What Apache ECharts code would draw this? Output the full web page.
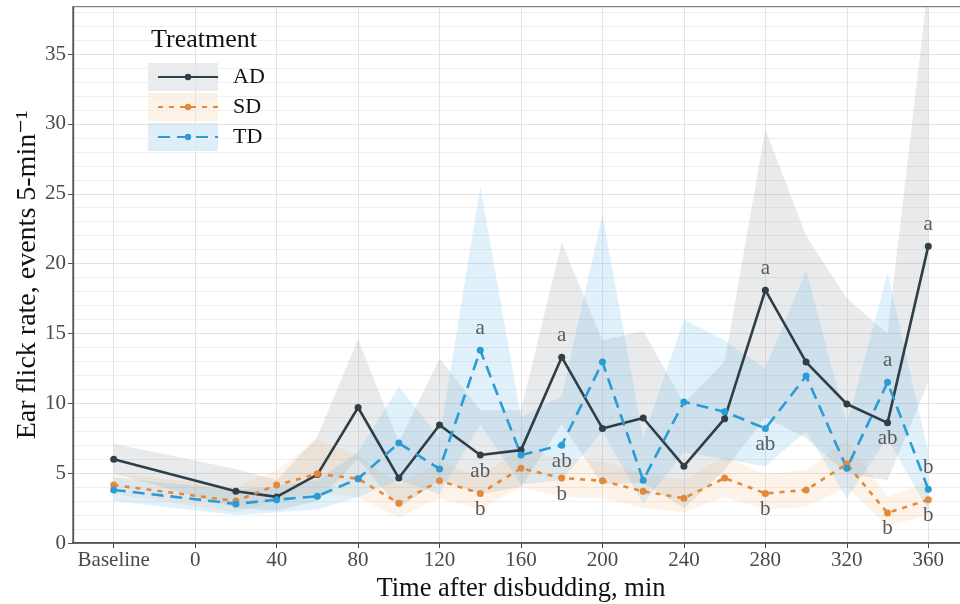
<!DOCTYPE html>
<html>
<head>
<meta charset="utf-8">
<script src="https://cdn.jsdelivr.net/npm/echarts@6/dist/echarts.min.js"></script>
<style>html,body{margin:0;padding:0;background:#fff}#c{width:960px;height:604px}</style>
</head>
<body>
<div id="c"></div>
<script>
// ---- data ----
const times = [-40, 20, 40, 60, 80, 100, 120, 140, 160, 180, 200, 220, 240, 260, 280, 300, 320, 340, 360];
const tickValues = [-40, 0, 40, 80, 120, 160, 200, 240, 280, 320, 360];
const tickLabels = ['Baseline', '0', '40', '80', '120', '160', '200', '240', '280', '320', '360'];

const adMean = [6.0, 3.7, 3.3, 4.9, 9.7, 4.65, 8.45, 6.3, 6.65, 13.3, 8.2, 8.95, 5.5, 8.9, 18.1, 12.95, 9.95, 8.6, 21.25];
const adLow  = [5.0, 2.5, 2.3, 3.0, 6.0, 2.5, 4.5, 3.5, 4.0, 8.5, 4.2, 4.3, 2.5, 5.2, 9.0, 7.5, 5.0, 4.5, 11.5];
const adHigh = [7.1, 5.3, 4.5, 7.6, 14.6, 7.2, 13.2, 9.5, 9.5, 21.5, 14.5, 15.2, 10.0, 13.0, 29.6, 22.0, 17.5, 15.0, 40.0];

const sdMean = [4.15, 3.0, 4.15, 4.95, 4.6, 2.85, 4.45, 3.55, 5.35, 4.65, 4.45, 3.7, 3.2, 4.65, 3.55, 3.8, 5.65, 2.15, 3.1];
const sdLow  = [3.5, 2.2, 3.0, 3.6, 3.3, 1.8, 3.2, 2.4, 4.0, 3.3, 3.2, 2.5, 2.2, 3.3, 2.4, 2.6, 4.0, 1.2, 2.0];
const sdHigh = [5.0, 4.0, 5.2, 7.4, 6.3, 4.2, 5.8, 4.8, 6.8, 6.0, 5.8, 5.0, 4.5, 6.2, 4.9, 5.2, 7.4, 3.3, 4.4];

const tdMean = [3.8, 2.8, 3.1, 3.35, 4.6, 7.15, 5.3, 13.8, 6.3, 7.0, 12.95, 4.5, 10.1, 9.4, 8.2, 11.95, 5.35, 11.5, 3.85];
const tdLow  = [3.0, 2.0, 2.2, 2.4, 3.3, 4.5, 3.5, 8.5, 4.2, 4.5, 8.0, 2.8, 6.5, 6.0, 5.5, 8.0, 3.2, 7.5, 2.3];
const tdHigh = [4.7, 3.8, 4.1, 4.5, 6.5, 11.2, 7.5, 25.5, 9.0, 10.5, 23.5, 7.5, 16.0, 14.5, 12.5, 19.5, 8.5, 19.3, 6.5];

// significance letters (aligned with times)
const adLetters = ['', '', '', '', '', '', '', 'ab', '', 'a', '', '', '', '', 'a', '', '', 'ab', 'a'];
const sdLetters = ['', '', '', '', '', '', '', 'b', '', 'b', '', '', '', '', 'b', '', '', 'b', 'b'];
const tdLetters = ['', '', '', '', '', '', '', 'a', '', 'ab', '', '', '', '', 'ab', '', '', 'a', 'b'];

const seriesNames = ['AD', 'SD', 'TD'];

// ---- style ----
const FONT = '"Liberation Serif", "DejaVu Serif", serif';
const colors = { AD: '#2f3f48', SD: '#e28a3a', TD: '#2b9bd6' };
const bandColors = { AD: 'rgba(140,150,158,0.20)', SD: 'rgba(248,180,120,0.16)', TD: 'rgba(100,185,235,0.20)' };
const letterPos = {
  AD: { 'ab': 'bottom', 'a': 'top' },
  SD: { 'b': 'bottom' },
  TD: { 'a': 'top', 'ab': 'bottom', 'b': 'top' }
};

function bandSeries(name, low, high) {
  return {
    type: 'custom',
    name: name + ' band',
    clip: true,
    silent: true,
    z: 1,
    data: [0],
    renderItem: function (params, api) {
      const pts = [];
      for (let i = 0; i < times.length; i++) pts.push(api.coord([times[i], high[i]]));
      for (let i = times.length - 1; i >= 0; i--) pts.push(api.coord([times[i], low[i]]));
      return { type: 'polygon', shape: { points: pts }, style: { fill: bandColors[name] } };
    }
  };
}

function lineSeries(name, mean, letters, dash) {
  const data = times.map((t, i) => {
    const item = { value: [t, mean[i]] };
    const L = letters[i];
    if (L) {
      const pos = letterPos[name][L];
      item.label = {
        show: true, formatter: L, position: pos,
        distance: pos === 'top' ? 8 : 2,
        fontFamily: FONT, fontSize: 21, color: '#5a5a5a'
      };
    }
    return item;
  });
  return {
    type: 'line', name: name, data: data, z: 3,
    symbol: 'circle', symbolSize: 7, showSymbol: true,
    itemStyle: { color: colors[name] },
    lineStyle: { color: colors[name], width: 2.6, type: dash },
    label: { show: false },
    animation: false
  };
}

const chart = echarts.init(document.getElementById('c'), null, { renderer: 'canvas' });
chart.setOption({
  animation: false,
  backgroundColor: '#ffffff',
  grid: { left: 73, right: -9, top: 7, bottom: 61, outerBoundsMode: 'none', containLabel: false, show: true, borderColor: '#555', borderWidth: 1.3, backgroundColor: 'transparent' },
  title: {
    text: 'Treatment', left: 146, top: 22,
    textStyle: { fontFamily: FONT, fontSize: 26, fontWeight: 'normal', color: '#111' }
  },
  legend: {
    data: seriesNames, orient: 'vertical', left: 152, top: 61, z: 5,
    itemWidth: 60, itemHeight: 8, itemGap: 8,
    textStyle: { fontFamily: FONT, fontSize: 22, color: '#111', lineHeight: 20, padding: [0, 0, 0, 10] }
  },
  graphic: [
    { type: 'rect', left: 148, top: 63, z: 0, shape: { width: 70, height: 28 }, style: { fill: '#e9ebec' } },
    { type: 'rect', left: 148, top: 93, z: 0, shape: { width: 70, height: 28 }, style: { fill: '#fdf2e6' } },
    { type: 'rect', left: 148, top: 123, z: 0, shape: { width: 70, height: 28 }, style: { fill: '#ddeef9' } }
  ],
  xAxis: {
    type: 'value', min: -60, max: 380, interval: 20,
    name: 'Time after disbudding, min', nameLocation: 'middle', nameGap: 33,
    nameTextStyle: { fontFamily: FONT, fontSize: 26.5, color: '#111' },
    axisLine: { show: true, onZero: false, lineStyle: { color: '#444', width: 1.6 } },
    axisTick: { show: true, length: 5, lineStyle: { color: '#444' }, customValues: tickValues },
    axisLabel: {
      customValues: tickValues,
      formatter: function (v) { const k = tickValues.indexOf(v); return k >= 0 ? tickLabels[k] : ''; },
      fontFamily: FONT, fontSize: 21, color: '#4a4a4a', margin: 7
    },
    splitLine: { show: true, lineStyle: { color: '#e4e4e4', width: 1 } }
  },
  yAxis: {
    type: 'value', min: 0, max: 38.37, interval: 5,
    name: 'Ear flick rate, events 5-min\u207B\u00B9', nameLocation: 'middle', nameGap: 31,
    nameMoveOverlap: false,
    nameTextStyle: { fontFamily: FONT, fontSize: 28, color: '#111' },
    axisLine: { show: true, onZero: false, lineStyle: { color: '#555', width: 1.3 } },
    axisTick: { show: true, length: 5, lineStyle: { color: '#555' } },
    axisLabel: { fontFamily: FONT, fontSize: 21, color: '#4a4a4a', margin: 7, showMaxLabel: false },
    splitLine: { show: true, lineStyle: { color: '#e2e2e2', width: 1 } },
    minorTick: { show: false, splitNumber: 5 },
    minorSplitLine: { show: true, lineStyle: { color: '#efefef', width: 1 } }
  },
  series: [
    bandSeries('AD', adLow, adHigh),
    bandSeries('SD', sdLow, sdHigh),
    bandSeries('TD', tdLow, tdHigh),
    lineSeries('AD', adMean, adLetters, 'solid'),
    lineSeries('SD', sdMean, sdLetters, [5, 6]),
    lineSeries('TD', tdMean, tdLetters, [12, 7])
  ]
});
</script>
</body>
</html>
